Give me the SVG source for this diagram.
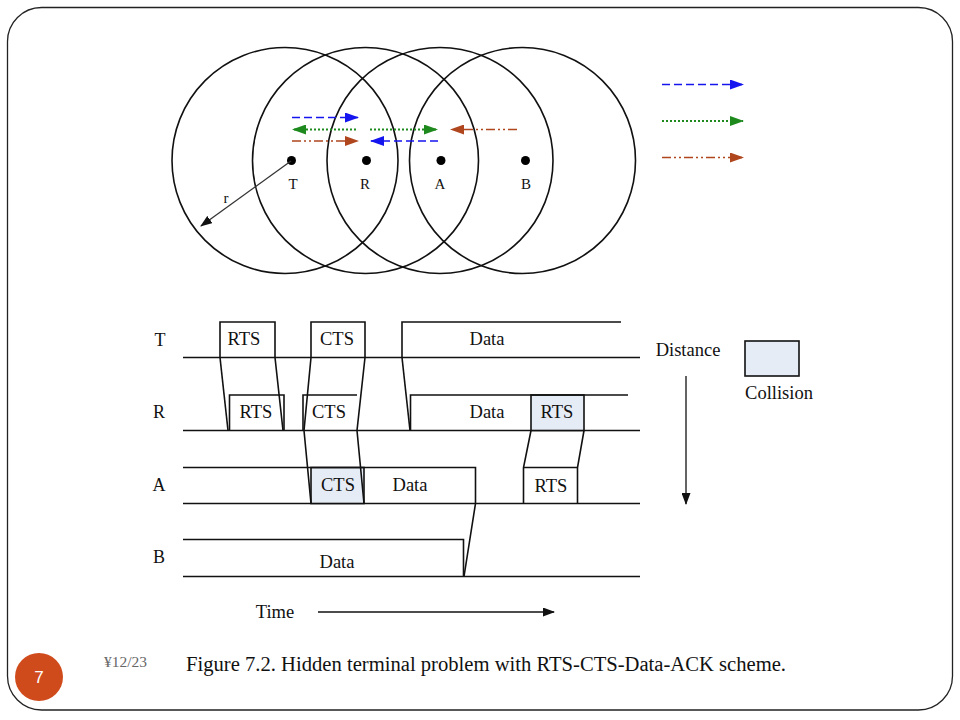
<svg xmlns="http://www.w3.org/2000/svg" width="960" height="720" viewBox="0 0 960 720">
<style>
.s{font-family:"Liberation Serif","Times New Roman",serif;fill:#111}
.ln{stroke:#111;stroke-width:1.6;fill:none}
.cir{stroke:#111;stroke-width:1.6;fill:none}
.col{fill:#e6ecf6;stroke:#111;stroke-width:1.6}
.blue{stroke:#1515f0;stroke-width:1.6;fill:none;stroke-dasharray:8,4}
.green{stroke:#1e8a1e;stroke-width:1.8;fill:none;stroke-dasharray:2,2}
.brown{stroke:#b0461e;stroke-width:1.6;fill:none;stroke-dasharray:9,3,2,3,2,3}
</style>
<defs>
<marker id="mb" markerUnits="userSpaceOnUse" markerWidth="14" markerHeight="10" refX="13" refY="5" orient="auto"><path d="M0,0 L14,5 L0,10 Z" fill="#1515f0"/></marker>
<marker id="mg" markerUnits="userSpaceOnUse" markerWidth="14" markerHeight="10" refX="13" refY="5" orient="auto"><path d="M0,0 L14,5 L0,10 Z" fill="#1e8a1e"/></marker>
<marker id="mr" markerUnits="userSpaceOnUse" markerWidth="14" markerHeight="10" refX="13" refY="5" orient="auto"><path d="M0,0 L14,5 L0,10 Z" fill="#b0461e"/></marker>
<marker id="mk" markerUnits="userSpaceOnUse" markerWidth="12" markerHeight="9" refX="11" refY="4.5" orient="auto"><path d="M0,0 L12,4.5 L0,9 Z" fill="#111"/></marker>
</defs>
<rect width="960" height="720" fill="#fff"/>
<g id="frame"><rect x="7.5" y="7.5" width="945" height="702.5" rx="34" ry="34" fill="none" stroke="#222" stroke-width="1.3"/></g>

<g id="ranges">
<circle class="cir" cx="285" cy="160.5" r="113"/>
<circle class="cir" cx="365.5" cy="160.5" r="113"/>
<circle class="cir" cx="440" cy="160.5" r="113"/>
<circle class="cir" cx="522.5" cy="160.5" r="113"/>
</g>
<g id="node-T"><circle cx="291.5" cy="160.5" r="4.5" fill="#000"/><text class="s" x="293" y="189" font-size="15" text-anchor="middle">T</text></g>
<g id="node-R"><circle cx="366.5" cy="160.5" r="4.5" fill="#000"/><text class="s" x="365" y="189" font-size="15" text-anchor="middle">R</text></g>
<g id="node-A"><circle cx="441" cy="160.5" r="4.5" fill="#000"/><text class="s" x="440" y="189" font-size="15" text-anchor="middle">A</text></g>
<g id="node-B"><circle cx="525.5" cy="160.5" r="4.5" fill="#000"/><text class="s" x="526" y="189" font-size="15" text-anchor="middle">B</text></g>
<text class="s" x="226" y="203" font-size="15" text-anchor="middle">r</text>

<g id="connectors">
<line x1="291" y1="161" x2="201" y2="226" stroke="#333" stroke-width="1.3" marker-end="url(#mk)"/>
<line class="blue" x1="292" y1="117.5" x2="358" y2="117.5" marker-end="url(#mb)"/>
<line class="green" x1="356" y1="129.5" x2="293" y2="129.5" marker-end="url(#mg)"/>
<line class="green" x1="370" y1="129.5" x2="437" y2="129.5" marker-end="url(#mg)"/>
<line class="brown" x1="517" y1="129.5" x2="451" y2="129.5" marker-end="url(#mr)"/>
<line class="brown" x1="292" y1="141" x2="358" y2="141" marker-end="url(#mr)"/>
<line class="blue" x1="438" y1="141" x2="371" y2="141" marker-end="url(#mb)"/>
<line class="blue" x1="662" y1="84.5" x2="743" y2="84.5" marker-end="url(#mb)"/>
<line class="green" x1="662" y1="121" x2="743" y2="121" marker-end="url(#mg)"/>
<line class="brown" x1="662" y1="157.5" x2="743" y2="157.5" marker-end="url(#mr)"/>
<line x1="318" y1="612" x2="554" y2="612" stroke="#111" stroke-width="1.3" marker-end="url(#mk)"/>
<line x1="686" y1="376" x2="686" y2="504" stroke="#111" stroke-width="1.3" marker-end="url(#mk)"/>
</g>

<g id="timing">
<text class="s" x="160" y="346" font-size="18" text-anchor="middle">T</text>
<text class="s" x="159" y="418" font-size="18" text-anchor="middle">R</text>
<text class="s" x="159" y="491" font-size="18" text-anchor="middle">A</text>
<text class="s" x="159" y="563" font-size="18" text-anchor="middle">B</text>
<!-- baselines -->
<line class="ln" x1="183" y1="357.5" x2="640" y2="357.5"/>
<line class="ln" x1="183" y1="430.5" x2="640" y2="430.5"/>
<line class="ln" x1="183" y1="503.5" x2="640" y2="503.5"/>
<line class="ln" x1="183" y1="576.5" x2="640" y2="576.5"/>
<!-- collision fills -->
<rect class="col" x="531" y="395" width="53" height="35.5"/>
<rect class="col" x="311" y="467.5" width="53" height="36"/>
<!-- RTS T->R -->
<polyline class="ln" points="220,357.5 220,322 275,322 275,357.5 283,430.5"/>
<polyline class="ln" points="220,357.5 228,430.5"/>
<polyline class="ln" points="229.5,430.5 229.5,395 284,395 284,430.5"/>
<!-- CTS R->T, A -->
<polyline class="ln" points="311,357.5 311,322 365,322 365,357.5"/>
<polyline class="ln" points="311,357.5 304,430.5 311,503.5"/>
<polyline class="ln" points="365,357.5 357,430.5 364,503.5"/>
<polyline class="ln" points="303,430.5 303,395 357,395"/>
<!-- Data T->R -->
<polyline class="ln" points="402,357.5 402,322 621,322"/>
<polyline class="ln" points="402,357.5 410,430.5"/>
<polyline class="ln" points="410.5,430.5 410.5,395 628,395"/>
<!-- A -->
<polyline class="ln" points="183,467.5 475.5,467.5 475.5,503.5 464,576.5"/>
<polyline class="ln" points="531,430.5 523.5,467.5 523.5,503.5"/>
<polyline class="ln" points="584,430.5 577.5,467.5 577.5,503.5"/>
<line class="ln" x1="523.5" y1="467.5" x2="577.5" y2="467.5"/>
<!-- B -->
<polyline class="ln" points="183,539.5 463.5,539.5 463.5,576.5"/>
<!-- labels -->
<text class="s" x="244" y="345" font-size="18.5" text-anchor="middle">RTS</text>
<text class="s" x="337" y="345" font-size="18.5" text-anchor="middle">CTS</text>
<text class="s" x="487" y="345" font-size="18.5" text-anchor="middle">Data</text>
<text class="s" x="256" y="418" font-size="18.5" text-anchor="middle">RTS</text>
<text class="s" x="329" y="418" font-size="18.5" text-anchor="middle">CTS</text>
<text class="s" x="487" y="418" font-size="18.5" text-anchor="middle">Data</text>
<text class="s" x="557" y="418" font-size="18.5" text-anchor="middle">RTS</text>
<text class="s" x="338" y="491" font-size="18.5" text-anchor="middle">CTS</text>
<text class="s" x="410" y="491" font-size="18.5" text-anchor="middle">Data</text>
<text class="s" x="551" y="492" font-size="18.5" text-anchor="middle">RTS</text>
<text class="s" x="337" y="568" font-size="18.5" text-anchor="middle">Data</text>
<text class="s" x="275" y="618" font-size="18.5" text-anchor="middle">Time</text>
<text class="s" x="688" y="356" font-size="18.5" text-anchor="middle">Distance</text>
<rect class="col" x="745" y="341" width="54" height="35"/>
<text class="s" x="779" y="399" font-size="18.5" text-anchor="middle">Collision</text>
</g>

<g id="caption">
<text class="s" x="186" y="671" font-size="20" textLength="600" lengthAdjust="spacingAndGlyphs">Figure 7.2. Hidden terminal problem with RTS-CTS-Data-ACK scheme.</text>
<text x="104" y="667" font-family="Liberation Serif,serif" font-size="14" fill="#666" textLength="43" lengthAdjust="spacingAndGlyphs">¥12/23</text>
</g>
<g id="slide-number">
<circle cx="39" cy="677" r="24" fill="#d04b1c"/>
<text x="39" y="683" font-family="Liberation Sans,Arial,sans-serif" font-size="17" fill="#fff" text-anchor="middle">7</text>
</g>
</svg>
